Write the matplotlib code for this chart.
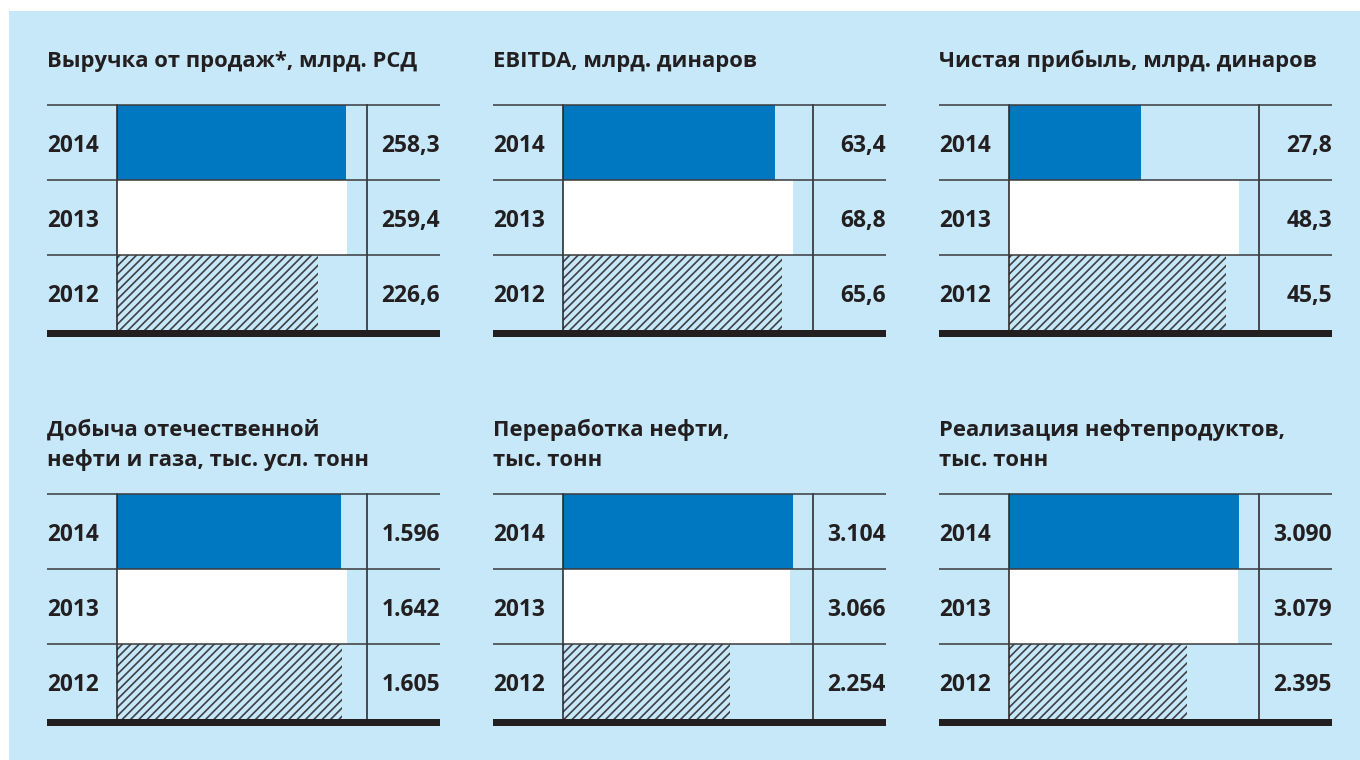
import matplotlib
matplotlib.use("Agg")
import matplotlib.pyplot as plt
from matplotlib.patches import Rectangle

plt.rcParams['font.family'] = ['Open Sans', 'DejaVu Sans']
plt.rcParams['hatch.linewidth'] = 1.2
plt.rcParams['hatch.color'] = '#3f4145'

# ---- data ----
years = ["2012", "2013", "2014"]
titles = [
    "Выручка от продаж*, млрд. РСД",
    "EBITDA, млрд. динаров",
    "Чистая прибыль, млрд. динаров",
    "Добыча отечественной\nнефти и газа, тыс. усл. тонн",
    "Переработка нефти,\nтыс. тонн",
    "Реализация нефтепродуктов,\nтыс. тонн",
]
revenue = [226.6, 259.4, 258.3]
ebitda = [65.6, 68.8, 63.4]
net_profit = [45.5, 48.3, 27.8]
production = [1605, 1642, 1596]
refining = [2254, 3066, 3104]
sales = [2395, 3079, 3090]
labels_revenue = ["226,6", "259,4", "258,3"]
labels_ebitda = ["65,6", "68,8", "63,4"]
labels_net_profit = ["45,5", "48,3", "27,8"]
labels_production = ["1.605", "1.642", "1.596"]
labels_refining = ["2.254", "3.066", "3.104"]
labels_sales = ["2.395", "3.079", "3.090"]

series = [revenue, ebitda, net_profit, production, refining, sales]
value_labels = [labels_revenue, labels_ebitda, labels_net_profit,
                labels_production, labels_refining, labels_sales]

# ---- style ----
BG = '#c6e8f9'
BLUE = '#0077c1'
DARK = '#231f20'
W, H = 1360, 760

fig = plt.figure(figsize=(W / 100, H / 100), dpi=100, facecolor='white')
fig.patches.append(Rectangle((9 / W, 0), 1 - 9 / W, 1 - 11 / H,
                             transform=fig.transFigure, facecolor=BG,
                             edgecolor='none', zorder=-10))

def fx(px):
    return px / W

def fy(py):
    return 1 - py / H

col_off = [0, 446, 892]
row_off = [0, 389]

for i, (vals, labs, title) in enumerate(zip(series, value_labels, titles)):
    cx = col_off[i % 3]
    ry = row_off[i // 3]
    left_px = 117 + cx
    top_px = 105 + ry
    bot_px = 330 + ry
    ax = fig.add_axes([fx(left_px), fy(bot_px), fx(250), (bot_px - top_px) / H])
    ax.set_facecolor('none')
    ymax = max(vals) / 0.92
    ax.set_xlim(0, ymax)
    ax.set_ylim(-0.5, 2.5)
    faces = [BG, 'white', BLUE]
    hatches = ['////', None, None]
    for k in range(3):
        ax.barh(k, vals[k], height=1.0, left=0, color=faces[k],
                hatch=hatches[k], edgecolor=('#3f4145' if hatches[k] else 'none'),
                linewidth=0, zorder=2)
    for s in ax.spines.values():
        s.set_visible(False)
    ax.set_xticks([])
    ax.set_yticks([])
    ax.plot([0, 0], [0, 1], transform=ax.transAxes, color=DARK, lw=1.1,
            zorder=4, clip_on=False)
    ax.plot([1, 1], [0, 1], transform=ax.transAxes, color=DARK, lw=1.1,
            zorder=4, clip_on=False)
    tr = ax.get_yaxis_transform()
    x0, x1 = -0.28, 1.292
    for yl in [0.5, 1.5, 2.5]:
        ax.plot([x0, x1], [yl, yl], transform=tr, color='#3a3a3c', lw=1.1,
                zorder=5, clip_on=False, solid_capstyle='butt')
    ax.add_patch(Rectangle((x0, -0.5 - 7 / 75), x1 - x0, 7 / 75, transform=tr,
                           facecolor=DARK, edgecolor='none', clip_on=False,
                           zorder=6))
    for k in range(3):
        ax.text(x0, k - 0.05, years[k], transform=tr, ha='left', va='center',
                fontsize=16.3, fontweight='bold', color=DARK)
        ax.text(x1, k - 0.05, labs[k], transform=tr, ha='right', va='center',
                fontsize=16.5, fontweight='bold', color=DARK)
    if i < 3:
        fig.text(fx(47 + cx), fy(61), title, ha='left', va='center',
                 fontsize=15.8, fontweight='bold', color=DARK)
    else:
        lines = title.split('\n')
        for j, ln in enumerate(lines):
            fig.text(fx(47 + cx), fy(430 + 30 * j), ln, ha='left', va='center',
                     fontsize=15.8, fontweight='bold', color=DARK)

fig.savefig('out.png', dpi=100, facecolor='white')
